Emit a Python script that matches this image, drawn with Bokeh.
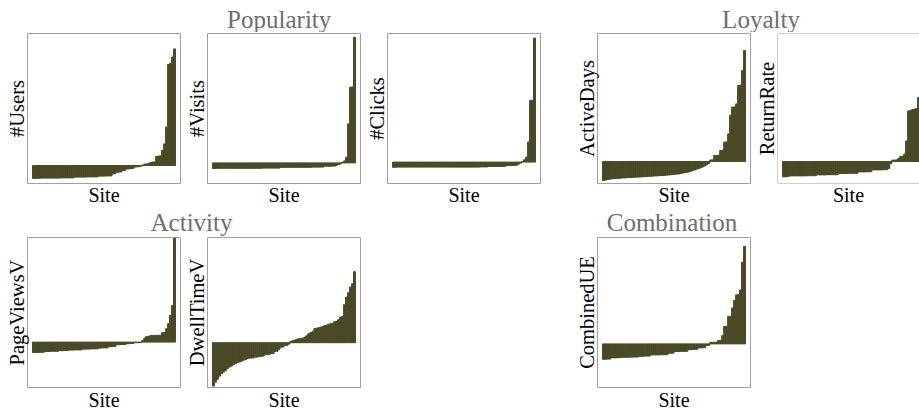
from bokeh.plotting import figure
from bokeh.layouts import column, row
from bokeh.models import Range1d, FixedTicker, Span, ColumnDataSource
from bokeh.core.properties import value
from bokeh.embed import file_html
from bokeh.resources import INLINE

# ---------------- data (standardised scores per site, sorted ascending) ----------------
sites = list(range(72))

users = [
    -0.65, -0.65, -0.64, -0.64, -0.63, -0.63, -0.63, -0.63, -0.63, -0.63,
    -0.63, -0.63, -0.63, -0.63, -0.62, -0.62, -0.62, -0.62, -0.62, -0.62,
    -0.62, -0.58, -0.58, -0.58, -0.58, -0.58, -0.58, -0.57, -0.57, -0.57,
    -0.57, -0.57, -0.57, -0.53, -0.53, -0.53, -0.53, -0.52, -0.52, -0.52,
    -0.42, -0.41, -0.34, -0.33, -0.32, -0.25, -0.24, -0.17, -0.17, -0.16,
    -0.15, -0.08, -0.07, -0.06, -0.04, 0.02, 0.07, 0.08, 0.10, 0.15,
    0.17, 0.18, 0.45, 0.47, 0.48, 0.75, 1.08, 1.92, 5.05, 5.10,
    5.42, 5.83]

visits = [
    -0.28, -0.28, -0.27, -0.27, -0.27, -0.27, -0.27, -0.27, -0.27, -0.27,
    -0.27, -0.27, -0.27, -0.27, -0.27, -0.27, -0.27, -0.27, -0.27, -0.27,
    -0.27, -0.27, -0.27, -0.27, -0.27, -0.26, -0.26, -0.26, -0.26, -0.26,
    -0.26, -0.26, -0.26, -0.26, -0.22, -0.22, -0.22, -0.22, -0.22, -0.22,
    -0.22, -0.22, -0.22, -0.22, -0.22, -0.22, -0.22, -0.22, -0.22, -0.22,
    -0.21, -0.21, -0.21, -0.21, -0.21, -0.21, -0.17, -0.17, -0.17, -0.17,
    -0.16, -0.16, -0.12, -0.08, -0.05, 0.03, 0.10, 0.28, 1.95, 3.78,
    3.80, 6.28]

clicks = [
    -0.26, -0.26, -0.25, -0.25, -0.25, -0.25, -0.25, -0.25, -0.25, -0.25,
    -0.25, -0.25, -0.25, -0.25, -0.25, -0.25, -0.25, -0.25, -0.25, -0.25,
    -0.25, -0.25, -0.25, -0.25, -0.25, -0.25, -0.25, -0.25, -0.25, -0.25,
    -0.25, -0.25, -0.25, -0.25, -0.25, -0.25, -0.25, -0.25, -0.25, -0.25,
    -0.25, -0.25, -0.25, -0.25, -0.24, -0.24, -0.24, -0.24, -0.22, -0.22,
    -0.22, -0.22, -0.22, -0.22, -0.22, -0.22, -0.21, -0.17, -0.17, -0.17,
    -0.17, -0.16, -0.16, -0.10, -0.05, 0.03, 0.12, 0.25, 1.00, 3.08,
    3.10, 6.20]

active_days = [
    -0.95, -0.93, -0.91, -0.89, -0.87, -0.86, -0.85, -0.84, -0.84, -0.83,
    -0.82, -0.82, -0.81, -0.80, -0.80, -0.79, -0.79, -0.78, -0.78, -0.77,
    -0.76, -0.76, -0.75, -0.74, -0.74, -0.73, -0.72, -0.72, -0.71, -0.70,
    -0.70, -0.69, -0.68, -0.67, -0.66, -0.65, -0.64, -0.63, -0.62, -0.60,
    -0.58, -0.56, -0.54, -0.52, -0.49, -0.45, -0.42, -0.38, -0.35, -0.31,
    -0.27, -0.22, -0.16, -0.10, 0.08, 0.08, 0.30, 0.30, 0.31, 0.55,
    0.56, 0.97, 0.98, 1.38, 2.30, 2.72, 2.73, 2.88, 3.80, 3.82,
    4.55, 5.55]

return_rate = [
    -0.77, -0.77, -0.76, -0.73, -0.72, -0.72, -0.72, -0.72, -0.72, -0.72,
    -0.72, -0.72, -0.71, -0.71, -0.71, -0.71, -0.71, -0.67, -0.67, -0.67,
    -0.67, -0.67, -0.66, -0.66, -0.66, -0.66, -0.66, -0.66, -0.60, -0.60,
    -0.60, -0.60, -0.60, -0.59, -0.59, -0.59, -0.59, -0.59, -0.52, -0.52,
    -0.52, -0.52, -0.51, -0.51, -0.51, -0.42, -0.42, -0.42, -0.42, -0.42,
    -0.41, -0.41, -0.41, -0.35, -0.10, 0.07, 0.07, 0.08, 0.15, 0.25,
    0.25, 0.37, 1.03, 2.53, 2.55, 2.60, 2.62, 2.65, 3.20, 4.03,
    4.80, 6.00]

page_views = [
    -0.52, -0.52, -0.52, -0.51, -0.51, -0.51, -0.47, -0.47, -0.47, -0.46,
    -0.46, -0.46, -0.46, -0.43, -0.43, -0.43, -0.42, -0.42, -0.40, -0.40,
    -0.40, -0.39, -0.39, -0.39, -0.39, -0.35, -0.35, -0.35, -0.35, -0.34,
    -0.34, -0.34, -0.34, -0.30, -0.30, -0.29, -0.29, -0.29, -0.23, -0.23,
    -0.22, -0.22, -0.13, -0.13, -0.12, -0.12, -0.12, -0.08, -0.08, -0.07,
    -0.07, -0.03, -0.03, -0.02, -0.02, 0.08, 0.20, 0.28, 0.28, 0.33,
    0.33, 0.33, 0.34, 0.34, 0.34, 0.47, 0.48, 0.67, 0.92, 1.33,
    1.83, 5.20]

dwell_time = [
    -2.17, -1.97, -1.83, -1.67, -1.55, -1.47, -1.40, -1.30, -1.22, -1.17,
    -1.10, -1.05, -1.00, -0.97, -0.93, -0.88, -0.85, -0.80, -0.77, -0.77,
    -0.76, -0.72, -0.72, -0.68, -0.68, -0.67, -0.60, -0.60, -0.59, -0.55,
    -0.55, -0.43, -0.43, -0.33, -0.22, -0.22, -0.13, -0.13, -0.07, 0.07,
    0.10, 0.13, 0.17, 0.20, 0.20, 0.22, 0.28, 0.35, 0.45, 0.50,
    0.55, 0.70, 0.72, 0.75, 0.78, 0.80, 0.85, 0.88, 0.92, 0.95,
    0.97, 1.05, 1.08, 1.15, 1.28, 1.32, 1.90, 2.28, 2.50, 2.78,
    2.95, 3.55]

combined_ue = [
    -0.77, -0.77, -0.76, -0.76, -0.70, -0.70, -0.70, -0.69, -0.69, -0.67,
    -0.67, -0.67, -0.67, -0.67, -0.66, -0.66, -0.66, -0.66, -0.62, -0.62,
    -0.62, -0.61, -0.61, -0.61, -0.55, -0.55, -0.55, -0.55, -0.55, -0.54,
    -0.54, -0.54, -0.54, -0.47, -0.47, -0.46, -0.38, -0.38, -0.38, -0.37,
    -0.37, -0.37, -0.37, -0.28, -0.28, -0.28, -0.27, -0.27, -0.20, -0.20,
    -0.19, -0.19, -0.08, -0.07, 0.08, 0.08, 0.08, 0.09, 0.17, 0.17,
    0.42, 0.87, 0.88, 1.37, 1.38, 1.80, 2.17, 2.45, 2.46, 2.70,
    4.08, 4.87]

group_titles_row1 = ["Popularity", "Loyalty"]
group_titles_row2 = ["Activity", "Combination"]
x_label = "Site"

# ---------------- styling ----------------
BAR = "#4a4a28"
FRAME = "#a0a0a0"
TITLE_C = "#6e6e6e"
FONT = "Liberation Serif"
YLABEL_SIZE = "20.5px"
XLABEL_SIZE = "20px"
TITLE_SIZE = "25px"
UNITS_PER_PX = 77 / 153.0
PAGE_W = 919


def panel(vals, ylabel, yr, left, right, frame_w=153, top_row=True, clip_right=False):
    height = (1 + 150 + 25) if top_row else (1 + 150 + 1)
    p = figure(width=left + frame_w + right, height=height,
               x_range=Range1d(-3, -3 + frame_w * UNITS_PER_PX),
               y_range=Range1d(*yr),
               toolbar_location=None, output_backend="svg",
               x_axis_location="below" if top_row else None,
               min_border_left=left, min_border_right=right,
               min_border_top=1, min_border_bottom=25 if top_row else 1)
    src = ColumnDataSource(dict(site=sites, v=vals))
    p.vbar(x="site", top="v", bottom=0, width=1.0, source=src,
           fill_color=BAR, line_color=BAR, line_width=1)
    p.grid.visible = False
    p.background_fill_color = "white"
    p.border_fill_color = "white"
    if clip_right:
        p.outline_line_color = None
        for loc, dim in ((yr[1], "width"), (yr[0], "width"), (-3, "height")):
            p.add_layout(Span(location=loc, dimension=dim,
                              line_color=FRAME, line_width=1))
    else:
        p.outline_line_color = FRAME
        p.outline_line_width = 1
    axes = list(p.yaxis) + (list(p.xaxis) if top_row else [])
    for ax in axes:
        ax.ticker = FixedTicker(ticks=[])
        ax.major_label_text_font_size = "0px"
        ax.major_tick_line_color = None
        ax.minor_tick_line_color = None
        ax.axis_line_color = None
        ax.major_tick_out = 0
        ax.major_tick_in = 0
        ax.minor_tick_out = 0
        ax.major_label_standoff = 0
        ax.axis_label_text_font = FONT
        ax.axis_label_text_font_style = "normal"
        ax.axis_label_text_color = "black"
    p.yaxis.axis_label = ylabel
    p.yaxis.axis_label_text_font_size = YLABEL_SIZE
    p.yaxis.axis_label_standoff = 0
    if top_row:
        p.xaxis.axis_label = x_label
        p.xaxis.axis_label_text_font_size = XLABEL_SIZE
        p.xaxis.axis_label_standoff = 0
    return p


def strip(height, xs, texts, y, size, color):
    s = figure(width=PAGE_W, height=height, x_range=Range1d(0, PAGE_W),
               y_range=Range1d(0, height), toolbar_location=None,
               output_backend="svg", x_axis_location=None, y_axis_location=None,
               min_border=0)
    s.grid.visible = False
    s.outline_line_color = None
    s.border_fill_color = "white"
    s.background_fill_color = "white"
    src = ColumnDataSource(dict(x=xs, y=[y] * len(xs), t=texts))
    s.text(x="x", y="y", text="t", source=src, text_align="center",
           text_baseline="alphabetic", text_font=value(FONT),
           text_font_size=size, text_color=color)
    return s


t1 = strip(32, [278.7, 760.5], group_titles_row1, 13.5, TITLE_SIZE, TITLE_C)
p1 = panel(users, "#Users", (-0.90, 6.60), 27, 1)
p2 = panel(visits, "#Visits", (-1.03, 6.47), 26, 1)
p3 = panel(clicks, "#Clicks", (-1.07, 6.43), 26, 31)
p4 = panel(active_days, "ActiveDays", (-1.10, 6.40), 26, 1)
p5 = panel(return_rate, "ReturnRate", (-1.10, 6.40), 26, 0, frame_w=142, clip_right=True)

t2 = strip(28, [191.0, 671.5], group_titles_row2, 13.7, TITLE_SIZE, TITLE_C)
q1 = panel(page_views, "PageViewsV", (-2.27, 5.23), 27, 1, top_row=False)
q2 = panel(dwell_time, "DwellTimeV", (-2.24, 5.26), 26, 211, top_row=False)
q3 = panel(combined_ue, "CombinedUE", (-2.18, 5.32), 26, 1, top_row=False)

t3 = strip(23, [103.5, 283.5, 673.5], [x_label] * 3, 11.4, XLABEL_SIZE, "black")

layout = column(t1, row(p1, p2, p3, p4, p5), t2, row(q1, q2, q3), t3)

open("out.html", "w").write(file_html(layout, INLINE))
